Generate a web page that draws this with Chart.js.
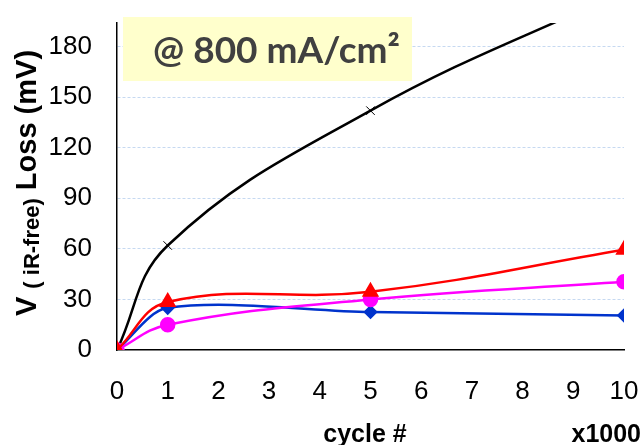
<!DOCTYPE html>
<html>
<head>
<meta charset="utf-8">
<script src="https://cdn.jsdelivr.net/npm/chart.js@4.4.1/dist/chart.umd.min.js"></script>
<style>
  html, body { margin: 0; padding: 0; background: #fff; }
  #wrap { width: 642px; height: 445px; position: relative; }
</style>
</head>
<body>
<div id="wrap"><canvas id="loss-chart" width="642" height="445"></canvas></div>
<script>
// cycles (x1000) and voltage loss (mV) per sample
var cycles = [0, 1, 5, 10];
var lossBlack = [0, 62, 142, 213];
var lossRed = [0, 28.5, 34.5, 59.5];
var lossMagenta = [0, 15, 30, 40.5];
var lossBlue = [0, 25, 22.5, 20.5];
var yTicks = [0, 30, 60, 90, 120, 150, 180];
var xTicks = [0, 1, 2, 3, 4, 5, 6, 7, 8, 9, 10];

var toPoints = function (ys) {
    return cycles.map(function (c, i) { return { x: c, y: ys[i] }; });
};

var tickFont = { family: "'Liberation Sans', Arial, sans-serif", size: 26 };

// yellow condition box, axis titles
var annotations = {
    id: 'annotations',
    beforeDatasetsDraw: function (chart) {
        var ctx = chart.ctx;
        ctx.save();
        ctx.fillStyle = '#FFFFCC';
        ctx.fillRect(123, 17, 289, 64);
        ctx.fillStyle = '#404040';
        ctx.font = "bold 37px Lato, 'Open Sans', sans-serif";
        ctx.textBaseline = 'alphabetic';
        ctx.textAlign = 'left';
        ctx.fillText('@ 800 mA/cm\u00B2', 153, 63);
        ctx.restore();
    },
    afterDraw: function (chart) {
        var ctx = chart.ctx;
        ctx.save();
        ctx.fillStyle = '#000';
        ctx.textBaseline = 'alphabetic';

        // x axis titles
        ctx.font = "bold 25px 'Liberation Sans', Arial, sans-serif";
        ctx.textAlign = 'center';
        ctx.fillText('cycle #', 365, 442);
        ctx.textAlign = 'right';
        ctx.fillText('x1000', 641, 442);

        // rotated y title with subscript
        ctx.translate(36, 183);
        ctx.rotate(-Math.PI / 2);
        var big = "bold 29px 'Liberation Sans', Arial, sans-serif";
        var small = "bold 22px 'Liberation Sans', Arial, sans-serif";
        ctx.font = big;
        var wV = ctx.measureText('V ').width;
        var wL = ctx.measureText(' Loss (mV)').width;
        ctx.font = small;
        var wS = ctx.measureText('( iR-free)').width;
        var x = -(wV + wS + wL) / 2;
        ctx.textAlign = 'left';
        ctx.font = big;
        ctx.fillText('V ', x, 0);
        ctx.font = small;
        ctx.fillText('( iR-free)', x + wV, 3);
        ctx.font = big;
        ctx.fillText(' Loss (mV)', x + wV + wS, 0);
        ctx.restore();
    }
};

var ctx = document.getElementById('loss-chart').getContext('2d');

new Chart(ctx, {
    type: 'line',
    data: {
        datasets: [
            {
                data: toPoints(lossRed),
                borderColor: '#FF0000',
                backgroundColor: '#FF0000',
                pointStyle: 'triangle',
                pointRadius: 7.5,
                borderWidth: 2.5
            },
            {
                data: toPoints(lossMagenta),
                borderColor: '#FF00FF',
                backgroundColor: '#FF00FF',
                pointStyle: 'circle',
                pointRadius: 6.5,
                borderWidth: 2.5
            },
            {
                data: toPoints(lossBlue),
                borderColor: '#0033CC',
                backgroundColor: '#0033CC',
                pointStyle: 'rectRot',
                pointRadius: 5.5,
                borderWidth: 2.5,
                tension: 0.3
            },
            {
                data: toPoints(lossBlack),
                borderColor: '#000000',
                backgroundColor: '#000000',
                pointStyle: 'crossRot',
                pointRadius: 6,
                pointBorderWidth: 1,
                borderWidth: 2.5
            }
        ]
    },
    options: {
        responsive: false,
        animation: false,
        tension: 0.4,
        layout: { padding: { top: 23, right: 18, bottom: 0, left: 0 } },
        plugins: {
            legend: { display: false },
            tooltip: { enabled: false }
        },
        scales: {
            x: {
                type: 'linear',
                min: 0,
                max: 10,
                afterBuildTicks: function (scale) {
                    scale.ticks = xTicks.map(function (v) { return { value: v }; });
                },
                afterFit: function (scale) {
                    scale.height = 95;
                    scale.paddingLeft = 0;
                    scale.paddingRight = 0;
                },
                grid: { display: false, drawTicks: false },
                border: { display: true, color: '#000', width: 1.5 },
                ticks: { color: '#000', font: tickFont, padding: 26, maxRotation: 0 }
            },
            y: {
                min: 0,
                max: 194,
                afterBuildTicks: function (scale) {
                    scale.ticks = yTicks.map(function (v) { return { value: v }; });
                },
                afterFit: function (scale) {
                    scale.width = 117;
                    scale.paddingTop = 0;
                    scale.paddingBottom = 0;
                },
                grid: {
                    drawTicks: false,
                    color: function (c) { return c.tick && c.tick.value === 0 ? 'rgba(0,0,0,0)' : '#C6D9F1'; },
                    lineWidth: 1
                },
                border: { display: true, color: '#000', width: 1.5, dash: [3, 2] },
                ticks: { color: '#000', font: tickFont, padding: 25 }
            }
        }
    },
    plugins: [annotations]
});
</script>
</body>
</html>
